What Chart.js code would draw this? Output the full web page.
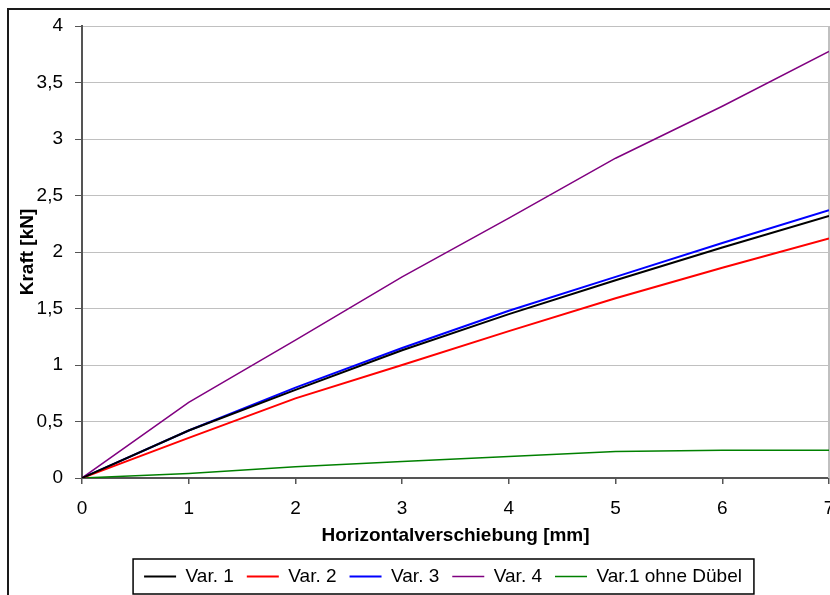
<!DOCTYPE html>
<html lang="de">
<head>
<meta charset="UTF-8" />
<title>Kraft über Horizontalverschiebung</title>
<script src="https://cdn.jsdelivr.net/npm/chart.js@4/dist/chart.umd.min.js"></script>
<style>
  html, body { margin: 0; padding: 0; background: #fff; overflow: hidden; }
  body { width: 830px; height: 595px; position: relative; }
  /* chart frame, runs past the right and bottom edge like in the original */
  #frame { position: absolute; left: 7px; top: 8px; width: 868px; height: 610px; border: 2px solid #1a1a1a; }
</style>
</head>
<body>
<div id="frame"><canvas id="chart"></canvas></div>
<script>
// ---- data ----
const verschiebung = [0, 1, 2, 3, 4, 5, 6, 7];            // mm
const var1 = [0, 0.42, 0.78, 1.13, 1.45, 1.75, 2.04, 2.32];  // kN
const var2 = [0, 0.355, 0.705, 1.00, 1.30, 1.59, 1.86, 2.12];
const var3 = [0, 0.42, 0.80, 1.15, 1.48, 1.78, 2.08, 2.37];
const var4 = [0, 0.67, 1.22, 1.78, 2.30, 2.83, 3.29, 3.775];
const var1OhneDuebel = [0, 0.04, 0.10, 0.145, 0.19, 0.235, 0.245, 0.245];

const seriesNames = ["Var. 1", "Var. 2", "Var. 3", "Var. 4", "Var.1 ohne Dübel"];
const seriesValues = [var1, var2, var3, var4, var1OhneDuebel];
const seriesColors = ["#000000", "#ff0000", "#0000ff", "#800080", "#008000"];
const seriesWidths = [2, 2, 2, 1.5, 1.5];

const toPoints = (vals) => vals.map((y, i) => ({ x: verschiebung[i], y }));
const komma = (v) => String(v).replace(".", ",");

Chart.defaults.font.family = "'Liberation Sans', Arial, sans-serif";
Chart.defaults.font.size = 19;
Chart.defaults.color = "#000";

const LEGEND_SHIFT = 24;

// plot border on the right + legend shift/box
const chartDeco = {
  id: "chartDeco",
  afterLayout(chart) {
    chart.legend.left += LEGEND_SHIFT;
    chart.legend.right += LEGEND_SHIFT;
  },
  beforeDatasetsDraw(chart) {
    const { ctx, chartArea: a } = chart;
    ctx.save();
    ctx.strokeStyle = "#c0c0c0";
    ctx.lineWidth = 2;
    ctx.beginPath();
    ctx.moveTo(a.right, a.top);
    ctx.lineTo(a.right, a.bottom);
    ctx.stroke();
    ctx.restore();
  },
  afterDraw(chart) {
    const hb = chart.legend.legendHitBoxes;
    if (!hb || !hb.length) return;
    const first = hb[0], last = hb[hb.length - 1];
    const x1 = first.left - 11, x2 = last.left + last.width + 12;
    const y1 = first.top - 8, y2 = first.top + first.height + 8;
    const { ctx } = chart;
    ctx.save();
    ctx.strokeStyle = "#000";
    ctx.lineWidth = 1.5;
    ctx.strokeRect(x1, y1, x2 - x1, y2 - y1);
    ctx.restore();
  }
};

new Chart(document.getElementById("chart"), {
  type: "line",
  data: {
    datasets: seriesNames.map((name, i) => ({
      label: name,
      data: toPoints(seriesValues[i]),
      borderColor: seriesColors[i],
      backgroundColor: seriesColors[i],
      borderWidth: seriesWidths[i],
      pointRadius: 0,
      tension: 0,
      fill: false
    }))
  },
  options: {
    responsive: true,
    maintainAspectRatio: false,
    animation: false,
    layout: { padding: { top: 16, right: 48, bottom: 24, left: 0 } },
    plugins: {
      tooltip: { enabled: false },
      legend: {
        position: "bottom",
        labels: {
          usePointStyle: true,
          pointStyle: "line",
          pointStyleWidth: 32,
          padding: 13,
          color: "#000",
          font: { size: 19 }
        }
      }
    },
    scales: {
      x: {
        type: "linear",
        min: 0,
        max: 7,
        afterFit: (s) => { s.height = 76; },
        ticks: { stepSize: 1, padding: 13, callback: komma, maxRotation: 0 },
        grid: { drawOnChartArea: false, tickLength: 6, tickColor: "#555", lineWidth: 1.5 },
        border: { color: "#555", width: 2 },
        title: {
          display: true,
          text: "Horizontalverschiebung [mm]",
          font: { size: 19, weight: "bold" },
          padding: { top: 0, bottom: 7 }
        }
      },
      y: {
        min: 0,
        max: 4,
        afterFit: (s) => { s.width = 73; s.paddingTop = 0; s.paddingBottom = 0; },
        ticks: { stepSize: 0.5, padding: 12, callback: komma },
        grid: { color: "#c0c0c0", lineWidth: 1, tickLength: 7, tickColor: "#555" },
        border: { color: "#555", width: 2 },
        title: {
          display: true,
          text: "Kraft [kN]",
          font: { size: 19, weight: "bold" },
          padding: { top: 7, bottom: 0 }
        }
      }
    }
  },
  plugins: [chartDeco]
});
</script>
</body>
</html>
